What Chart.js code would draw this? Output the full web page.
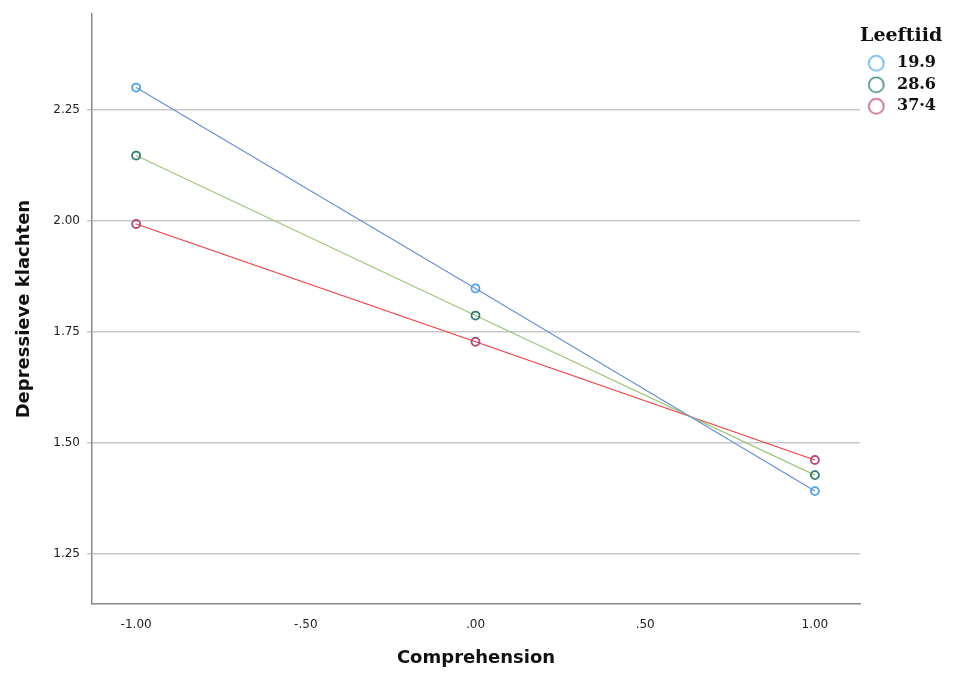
<!DOCTYPE html>
<html>
<head>
<meta charset="utf-8">
<script src="https://cdn.jsdelivr.net/npm/chart.js@4"></script>
<style>
  body { margin: 0; background: #fff; }
  #wrap { width: 954px; height: 673px; }
</style>
</head>
<body>
<div id="wrap"><canvas id="chart"></canvas></div>
<script>
// Comprehension levels on the x axis
const xValues = [-1, 0, 1];
const xTicks = [-1, -0.5, 0, 0.5, 1];
const yTicks = [1.25, 1.5, 1.75, 2.0, 2.25];

// Leeftiid groups
const groups = ['19.9', '28.6', '37·4'];
const age199 = [2.30, 1.848, 1.392];
const age286 = [2.147, 1.787, 1.428];
const age374 = [1.993, 1.728, 1.462];

const lineColors = ['#6c8fd3', '#9cc67a', '#f03e3e'];
const pointColors = ['#4ba3e6', '#2f7b70', '#b14a7b'];
const legendColors = ['#5cb0ec', '#3a8a80', '#c45a8b'];

function fmt(v) {
    let s = Math.abs(v).toFixed(2);
    if (Math.abs(v) < 1) s = s.replace(/^0/, '');
    return (v < 0 ? '-' : '') + s;
}

// small hollow circle used as legend marker
function legendMarker(color) {
    const c = document.createElement('canvas');
    c.width = 28;
    c.height = 20;
    const ctx = c.getContext('2d');
    ctx.strokeStyle = color;
    ctx.lineWidth = 1.6;
    ctx.beginPath();
    ctx.arc(13, 10, 7.5, 0, Math.PI * 2);
    ctx.stroke();
    return c;
}

const series = [age199, age286, age374];
const datasets = series.map((vals, i) => ({
    label: groups[i],
    data: xValues.map((x, j) => ({ x: x, y: vals[j] })),
    borderColor: lineColors[i],
    borderWidth: 1.2,
    pointRadius: 4,
    pointHoverRadius: 4,
    pointBorderWidth: 1.8,
    pointBorderColor: pointColors[i],
    pointBackgroundColor: 'rgba(255,255,255,0)',
    fill: false,
    tension: 0
}));

new Chart(document.getElementById('chart'), {
    type: 'line',
    data: { datasets },
    options: {
        responsive: true,
        maintainAspectRatio: false,
        animation: false,
        layout: { padding: { top: 12, right: 8, left: 0, bottom: 0 } },
        plugins: {
            tooltip: { enabled: false },
            legend: {
                position: 'right',
                align: 'start',
                title: {
                    display: true,
                    position: 'start',
                    text: 'Leeftiid',
                    color: '#111',
                    font: { family: 'DejaVu Serif', weight: 'bold', size: 19 },
                    padding: { top: 15, bottom: 0 }
                },
                labels: {
                    usePointStyle: true,
                    pointStyleWidth: 23.5,
                    boxHeight: 15,
                    padding: 5.5,
                    color: '#111',
                    font: { family: 'DejaVu Serif', weight: 'bold', size: 16 },
                    generateLabels: chart => groups.map((g, i) => ({
                        text: g,
                        fillStyle: 'rgba(255,255,255,0)',
                        strokeStyle: legendColors[i],
                        lineWidth: 1.5,
                        pointStyle: legendMarker(legendColors[i]),
                        datasetIndex: i,
                        hidden: false
                    }))
                }
            }
        },
        scales: {
            x: {
                type: 'linear',
                min: -1.13,
                max: 1.133,
                afterBuildTicks: s => { s.ticks = xTicks.map(v => ({ value: v })); },
                afterFit: s => { s.height = 69; },
                grid: { color: 'rgba(0,0,0,0)', drawTicks: false },
                border: { display: true, color: '#8a8a8a', width: 1.5 },
                ticks: {
                    padding: 14,
                    color: '#222',
                    font: { family: 'DejaVu Sans', size: 12 },
                    callback: v => fmt(v)
                },
                title: {
                    display: true,
                    text: 'Comprehension',
                    color: '#111',
                    font: { family: 'DejaVu Sans', weight: 'bold', size: 18 },
                    padding: { top: 4, bottom: 4 }
                }
            },
            y: {
                type: 'linear',
                min: 1.138,
                max: 2.465,
                afterBuildTicks: s => { s.ticks = yTicks.map(v => ({ value: v })); },
                afterFit: s => { s.width = 92; },
                grid: { color: '#c8c8c8', lineWidth: 1.5, tickLength: 5, drawTicks: true },
                border: { display: true, color: '#8a8a8a', width: 1.5 },
                ticks: {
                    padding: 7,
                    color: '#222',
                    font: { family: 'DejaVu Sans', size: 12 },
                    callback: v => v.toFixed(2)
                },
                title: {
                    display: true,
                    text: 'Depressieve klachten',
                    color: '#111',
                    font: { family: 'DejaVu Sans', weight: 'bold', size: 18 },
                    padding: { top: 14, bottom: 4 }
                }
            }
        }
    }
});
</script>
</body>
</html>
